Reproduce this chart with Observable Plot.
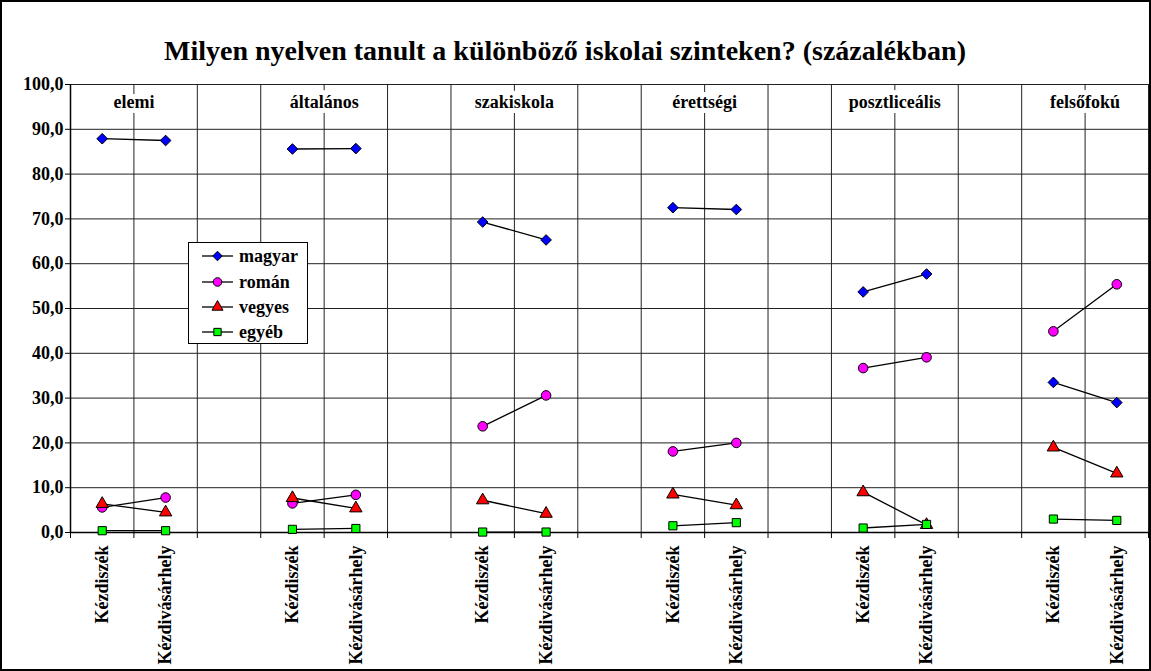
<!DOCTYPE html>
<html>
<head>
<meta charset="utf-8">
<script src="https://cdn.jsdelivr.net/npm/d3@7"></script>
<script src="https://cdn.jsdelivr.net/npm/@observablehq/plot@0.6"></script>
<style>
  html, body { margin: 0; padding: 0; background: #fff; }
  #wrap { position: relative; width: 1151px; height: 671px; overflow: hidden; background: #fff;
          font-family: "Liberation Serif", "DejaVu Serif", serif; font-weight: bold; }
  #wrap svg.plot { position: absolute; left: 0; top: 0; }
  #wrap svg text { font-family: "Liberation Serif", "DejaVu Serif", serif; }
  #title { position: absolute; left: 0; top: 35px; width: 1130px; text-align: center; font-size: 28px; color: #000; }
  #border { position: absolute; left: 0; top: 0; width: 1151px; height: 671px; box-sizing: border-box;
            border: 2px solid #000; pointer-events: none; }
  #legend { position: absolute; left: 188px; top: 242px; width: 120px; height: 102px; box-sizing: border-box;
            border: 1px solid #000; background: #fff; }
  #legend .item { position: absolute; left: 13px; height: 20px; display: flex; align-items: center; font-size: 18px; }
  #legend svg { margin-right: 5px; }
</style>
</head>
<body>
<div id="wrap">
  <div id="title">Milyen nyelven tanult a különböző iskolai szinteken? (százalékban)</div>
  <div id="legend"></div>
  <div id="border"></div>
</div>
<script>
// ---- data ----
const levels = ["elemi", "általános", "szakiskola", "érettségi", "posztliceális", "felsőfokú"];
const towns = ["Kézdiszék", "Kézdivásárhely"];
const seriesNames = ["magyar", "román", "vegyes", "egyéb"];
// values ordered: level by level, Kézdiszék then Kézdivásárhely
const magyar = [87.9, 87.5, 85.6, 85.7, 69.3, 65.3, 72.5, 72.1, 53.7, 57.7, 33.5, 29.0];
const roman  = [5.6, 7.8, 6.5, 8.4, 23.7, 30.6, 18.1, 20.0, 36.7, 39.1, 44.9, 55.4];
const vegyes = [6.4, 4.5, 7.7, 5.4, 7.2, 4.2, 8.5, 6.1, 9.0, 1.7, 19.0, 13.2];
const egyeb  = [0.4, 0.4, 0.7, 0.9, 0.1, 0.1, 1.5, 2.2, 1.0, 1.8, 3.0, 2.7];
const yTicks = [0, 10, 20, 30, 40, 50, 60, 70, 80, 90, 100];

const seriesValues = [magyar, roman, vegyes, egyeb];
const fills = ["#0000ff", "#ff00ff", "#ff0000", "#00ff00"];
const symbols = ["diamond2", "circle", "triangle", "square"];
const radii = [4.8, 4.8, 4.6, 4.6];

// each level occupies 3 slots: Kézdiszék, Kézdivásárhely, empty separator
const slot = (g, t) => 3 * g + t;
const nSlots = levels.length * 3 - 1;
const rows = [];
seriesNames.forEach((s, si) => {
  levels.forEach((lv, g) => {
    towns.forEach((tw, t) => {
      rows.push({series: s, si, level: lv, town: tw, x: slot(g, t), value: seriesValues[si][g * 2 + t], key: s + "|" + lv});
    });
  });
});
const pointSlots = [];
levels.forEach((lv, g) => towns.forEach((tw, t) => pointSlots.push(slot(g, t))));
const boundaries = d3.range(nSlots + 1).map(i => i - 0.5);
const labelRows = levels.map((lv, g) => ({level: lv, x: slot(g, 0) + 0.5}));

const font = "'Liberation Serif', 'DejaVu Serif', serif";
const fmt = d => d.toFixed(1).replace(".", ",");

const chart = Plot.plot({
  width: 1151,
  height: 671,
  marginTop: 84,
  marginBottom: 139,
  marginLeft: 70,
  marginRight: 3,
  style: {fontFamily: font, fontWeight: "bold", background: "transparent", color: "#000"},
  x: {type: "linear", domain: [-0.5, nSlots - 0.5], label: null},
  y: {domain: [0, 100], label: null},
  marks: [
    Plot.ruleY(yTicks, {stroke: "#222", strokeWidth: 1}),
    Plot.ruleX(boundaries, {stroke: "#222", strokeWidth: 1}),
    Plot.ruleY([0], {stroke: "#000", strokeWidth: 1.5}),
    Plot.ruleX([-0.5], {stroke: "#000", strokeWidth: 1.5}),
    Plot.axisY({ticks: yTicks, tickFormat: fmt, tickSize: 5, tickPadding: 2, fontSize: 18, fontWeight: "bold",
                fontFamily: font, stroke: "#000", label: null, style: {letterSpacing: "1px"}}),
    Plot.axisX({ticks: boundaries, tickFormat: () => "", tickSize: 6, stroke: "#000", label: null}),
    Plot.axisX({ticks: pointSlots, tickFormat: i => towns[i % 3], tickSize: 0, tickPadding: 13, rotate: -90,
                textAnchor: "end", lineAnchor: "middle", fontSize: 18, fontWeight: "bold", fontFamily: font, label: null}),
    Plot.text(labelRows, {x: "x", text: "level", frameAnchor: "top", dy: 18, lineAnchor: "middle", fontSize: 18,
                fontWeight: "bold", fontFamily: font, fill: "#000", stroke: "#fff", strokeWidth: 10}),
    Plot.line(rows, {x: "x", y: "value", z: "key", stroke: "#000", strokeWidth: 1.3}),
    ...seriesNames.map((s, si) => Plot.dot(rows.filter(d => d.si === si), {
      x: "x", y: "value", symbol: () => symbols[si], r: radii[si], fill: fills[si], stroke: "#000", strokeWidth: 1
    }))
  ]
});
chart.classList.add("plot");
document.getElementById("wrap").insertBefore(chart, document.getElementById("title"));

// legend
const legend = document.getElementById("legend");
const symMap = {diamond2: d3.symbolDiamond2, circle: d3.symbolCircle, triangle: d3.symbolTriangle, square: d3.symbolSquare};
const legendTops = [3, 29, 54, 79];
seriesNames.forEach((s, si) => {
  const item = document.createElement("div");
  item.className = "item";
  item.style.top = legendTops[si] + "px";
  const svg = d3.create("svg").attr("width", 32).attr("height", 14);
  svg.append("line").attr("x1", 0).attr("x2", 31).attr("y1", 7).attr("y2", 7).attr("stroke", "#000").attr("stroke-width", 1.3);
  svg.append("path").attr("transform", "translate(15.5,7)")
    .attr("d", d3.symbol(symMap[symbols[si]], Math.PI * radii[si] * radii[si] * 0.8)())
    .attr("fill", fills[si]).attr("stroke", "#000");
  item.appendChild(svg.node());
  const span = document.createElement("span");
  span.textContent = s;
  item.appendChild(span);
  legend.appendChild(item);
});
</script>
</body>
</html>
